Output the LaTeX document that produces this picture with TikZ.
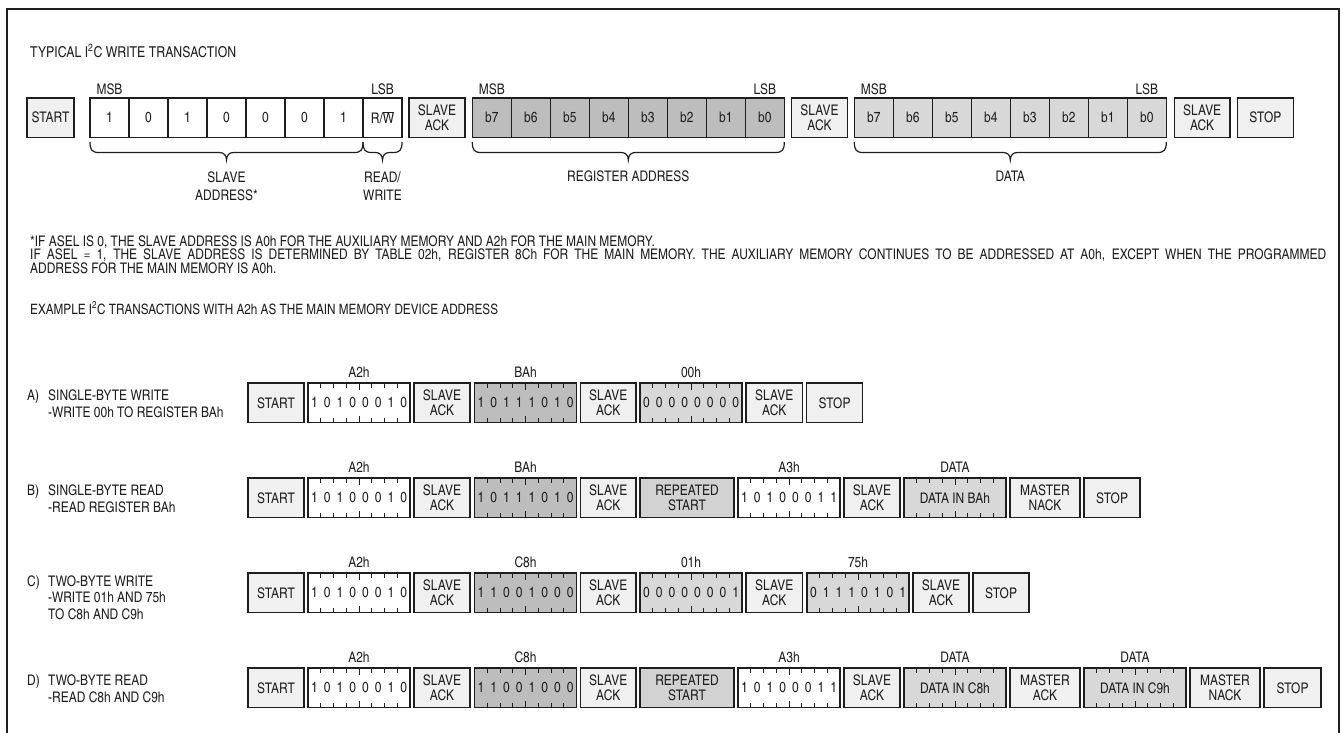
\documentclass[tikz,border=0pt]{standalone}
\usepackage{fontspec}
\setmainfont{texgyreheroscn}[Extension=.otf,UprightFont=*-regular,BoldFont=*-bold]
\usetikzlibrary{calc}
\definecolor{ctlfill}{HTML}{F0F0F0}
\definecolor{regfill}{HTML}{BDBDBD}
\definecolor{datfill}{HTML}{D8D8D8}
\definecolor{rsfill}{HTML}{D2D2D2}
\definecolor{ink}{HTML}{1E1E1E}
\newcommand\bxfont{\fontsize{14.6}{14.5}\selectfont}
\newcommand\lbfont{\fontsize{14.6}{17}\selectfont}
\newcommand\fnfont{\fontsize{14.6}{17}\selectfont}
\newcommand\exfont{\fontsize{14.3}{17}\selectfont}
\newcommand\ttfont{\fontsize{15}{17}\selectfont}
% plain box: [style]{name}{x1}{x2}{top}{text}
\newcommand\bx[6][]{\pgfmathsetmacro\bxw{#4-#3}\node[ctl,#1,minimum width=\bxw pt] (#2) at (#3,#5) {#6};}
% ticked box: {name}{x1}{top}{fill}{label}{text}
\newcommand\tickbox[6]{%
  \node[box,fill=#4,minimum width=102pt] (#1) at (#2,#3) {#6};
  \foreach \k in {1,...,7}{%
    \pgfmathsetmacro\tl{ifthenelse(\k==4,6.5,4.5)}%
    \draw[tickline] ($(#1.north west)+(12.75*\k,0)$) -- ++(0,\tl);
    \draw[tickline] ($(#1.south west)+(12.75*\k,0)$) -- ++(0,-\tl);}
  \node[lbl,anchor=base] (#1-l) at ($(#1.north)+(0,-6)$) {#5};}
% bit box: {name}{x1}{top}{fill}{label}{digits}
\newcommand\bitbox[6]{\tickbox{#1}{#2}{#3}{#4}{#5}{}%
  \foreach \d [count=\i from 0] in {#6}
    \node[font=\bxfont,inner sep=0pt,text=ink] (#1-\i) at ($(#1.west)+(12.75*\i+6.375,0)$) {\d};}
% brace under top row: {x1}{x2}
\newcommand\ibrace[2]{\pgfmathsetmacro\bm{(#1+#2)/2}%
  \draw[ink,line width=1.2pt] (#1,142) .. controls (#1,150) and (#1+2,152.5) .. (#1+9,152.5)
    -- (\bm-7,152.5) .. controls (\bm-3,152.5) and (\bm,155) .. (\bm,160)
    .. controls (\bm,155) and (\bm+3,152.5) .. (\bm+7,152.5)
    -- (#2-9,152.5) .. controls (#2-2,152.5) and (#2,150) .. (#2,142);}
% top-row cell: {name}{x1}{fill}{text}
\newcommand\cell[4]{\node[box,fill=#3,minimum width=39pt,minimum height=39.5pt] (#1) at (#2,98) {#4};}
\begin{document}
\begin{tikzpicture}[x=1pt,y=-1pt,
  box/.style={draw=ink,line width=1.4pt,minimum height=39.5pt,inner sep=0pt,outer sep=0pt,align=center,font=\bxfont,text=ink,anchor=north west},
  ctl/.style={box,fill=ctlfill},
  lbl/.style={font=\lbfont,text=ink,inner sep=0pt},
  fn/.style={font=\fnfont,text=ink,inner sep=0pt,anchor=base west},
  rowlbl/.style={font=\lbfont,text=ink,inner sep=0pt,anchor=base west},
  tickline/.style={draw=ink,line width=1pt},
]
\useasboundingbox (0,0) rectangle (1343,732);
\draw[ink,line width=2pt] (6.5,733) -- (6.5,9) -- (1338.5,9) -- (1338.5,733);

% ---------- typical write transaction ----------
\node[lbl,font=\ttfont,anchor=base west] (title1) at (30,57) {TYPICAL I\textsuperscript{2}C WRITE TRANSACTION};
\bx{tS}{27}{74}{98}{START}
\foreach \v [count=\i from 0] in {1,0,1,0,0,0,1}{\cell{tA\i}{90+39*\i}{white}{\v}}
\cell{tRW}{363}{white}{R/$\overline{\hbox{W}}$}
\bx{tK1}{409}{465}{98}{SLAVE\\ACK}
\foreach \v [count=\i from 0] in {7,6,5,4,3,2,1,0}{\cell{tR\i}{472.3+39*\i}{regfill}{b\v}}
\bx{tK2}{791.7}{847.3}{98}{SLAVE\\ACK}
\foreach \v [count=\i from 0] in {7,6,5,4,3,2,1,0}{\cell{tD\i}{854.3+39*\i}{datfill}{b\v}}
\bx{tK3}{1174.3}{1230}{98}{SLAVE\\ACK}
\bx{tP}{1237.3}{1293.3}{98}{STOP}
\node[lbl,anchor=base] (m1) at (109.5,94) {MSB};
\node[lbl,anchor=base] (l1) at (382.5,94) {LSB};
\node[lbl,anchor=base] (m2) at (491.8,94) {MSB};
\node[lbl,anchor=base] (l2) at (764.8,94) {LSB};
\node[lbl,anchor=base] (m3) at (873.8,94) {MSB};
\node[lbl,anchor=base] (l3) at (1146.8,94) {LSB};
\ibrace{90}{363}
\ibrace{363}{402}
\ibrace{472.3}{784.3}
\ibrace{854.3}{1166.3}
\node[lbl,anchor=base] (bl1) at (226.5,182) {SLAVE};
\node[lbl,anchor=base] (bl1b) at (226.5,200) {ADDRESS*};
\node[lbl,anchor=base] (bl2) at (382.5,182) {READ/};
\node[lbl,anchor=base] (bl2b) at (382.5,200) {WRITE};
\node[lbl,anchor=base] (bl3) at (628.3,181) {REGISTER ADDRESS};
\node[lbl,anchor=base] (bl4) at (1010.3,181) {DATA};

% ---------- footnote ----------
\node[fn] (fn1) at (30,246) {*IF ASEL IS 0, THE SLAVE ADDRESS IS A0h FOR THE AUXILIARY MEMORY AND A2h FOR THE MAIN MEMORY.};
\node[fn] (fn2) at (30,259.5) {\makebox[1296pt][s]{IF ASEL = 1, THE SLAVE ADDRESS IS DETERMINED BY TABLE 02h, REGISTER 8Ch FOR THE MAIN MEMORY. THE AUXILIARY MEMORY CONTINUES TO BE ADDRESSED AT A0h, EXCEPT WHEN THE PROGRAMMED}};
\node[fn] (fn3) at (30,273) {ADDRESS FOR THE MAIN MEMORY IS A0h.};

\node[fn,font=\exfont] (title2) at (30,314) {EXAMPLE I\textsuperscript{2}C TRANSACTIONS WITH A2h AS THE MAIN MEMORY DEVICE ADDRESS};

% ---------- row A ----------
\node[rowlbl] (la0) at (27,400.5) {A)};
\node[rowlbl] (la1) at (48,400.5) {SINGLE-BYTE WRITE};
\node[rowlbl] (la2) at (48,417.7) {-WRITE 00h TO REGISTER BAh};
\bx{aS}{248}{304}{383}{START}
\bitbox{aA}{308}{383}{white}{A2h}{1,0,1,0,0,0,1,0}
\bx{aK1}{414}{470}{383}{SLAVE\\ACK}
\bitbox{aR}{474.5}{383}{regfill}{BAh}{1,0,1,1,1,0,1,0}
\bx{aK2}{580.5}{636}{383}{SLAVE\\ACK}
\bitbox{aD}{640}{383}{datfill}{00h}{0,0,0,0,0,0,0,0}
\bx{aK3}{746}{802.5}{383}{SLAVE\\ACK}
\bx{aP}{806.5}{862.5}{383}{STOP}

% ---------- row B ----------
\node[rowlbl] (lb0) at (27,495.5) {B)};
\node[rowlbl] (lb1) at (48,495.5) {SINGLE-BYTE READ};
\node[rowlbl] (lb2) at (48,512.7) {-READ REGISTER BAh};
\bx{bS}{248}{304}{478}{START}
\bitbox{bA}{308}{478}{white}{A2h}{1,0,1,0,0,0,1,0}
\bx{bK1}{414}{470}{478}{SLAVE\\ACK}
\bitbox{bR}{474.5}{478}{regfill}{BAh}{1,0,1,1,1,0,1,0}
\bx{bK2}{580.5}{636}{478}{SLAVE\\ACK}
\bx[fill=rsfill]{bRS}{640}{734}{478}{REPEATED\\START}
\bitbox{bA3}{738}{478}{white}{A3h}{1,0,1,0,0,0,1,1}
\bx{bK3}{844}{900}{478}{SLAVE\\ACK}
\tickbox{bDI}{904}{478}{datfill}{DATA}{DATA IN BAh}
\bx{bMN}{1010}{1080}{478}{MASTER\\NACK}
\bx{bP}{1084}{1140}{478}{STOP}

% ---------- row C ----------
\node[rowlbl] (lc0) at (27,586) {C)};
\node[rowlbl] (lc1) at (48,586) {TWO-BYTE WRITE};
\node[rowlbl] (lc2) at (48,602.5) {-WRITE 01h AND 75h};
\node[rowlbl] (lc3) at (48,619) {TO C8h AND C9h};
\bx{cS}{248}{304}{573}{START}
\bitbox{cA}{308}{573}{white}{A2h}{1,0,1,0,0,0,1,0}
\bx{cK1}{414}{470}{573}{SLAVE\\ACK}
\bitbox{cR}{474.5}{573}{regfill}{C8h}{1,1,0,0,1,0,0,0}
\bx{cK2}{580.5}{636}{573}{SLAVE\\ACK}
\bitbox{cD1}{640}{573}{datfill}{01h}{0,0,0,0,0,0,0,1}
\bx{cK3}{746}{802.5}{573}{SLAVE\\ACK}
\bitbox{cD2}{807}{573}{datfill}{75h}{0,1,1,1,0,1,0,1}
\bx{cK4}{913}{969}{573}{SLAVE\\ACK}
\bx{cP}{973}{1029}{573}{STOP}

% ---------- row D ----------
\node[rowlbl] (ld0) at (27,685.5) {D)};
\node[rowlbl] (ld1) at (48,685.5) {TWO-BYTE READ};
\node[rowlbl] (ld2) at (48,702.7) {-READ C8h AND C9h};
\bx{dS}{248}{304}{668}{START}
\bitbox{dA}{308}{668}{white}{A2h}{1,0,1,0,0,0,1,0}
\bx{dK1}{414}{470}{668}{SLAVE\\ACK}
\bitbox{dR}{474.5}{668}{regfill}{C8h}{1,1,0,0,1,0,0,0}
\bx{dK2}{580.5}{636}{668}{SLAVE\\ACK}
\bx[fill=rsfill]{dRS}{640}{734}{668}{REPEATED\\START}
\bitbox{dA3}{738}{668}{white}{A3h}{1,0,1,0,0,0,1,1}
\bx{dK3}{844}{900}{668}{SLAVE\\ACK}
\tickbox{dDI1}{904}{668}{datfill}{DATA}{DATA IN C8h}
\bx{dMA}{1010}{1080}{668}{MASTER\\ACK}
\tickbox{dDI2}{1084}{668}{datfill}{DATA}{DATA IN C9h}
\bx{dMN}{1190}{1260}{668}{MASTER\\NACK}
\bx{dP}{1264}{1321}{668}{STOP}
\end{tikzpicture}
\end{document}
